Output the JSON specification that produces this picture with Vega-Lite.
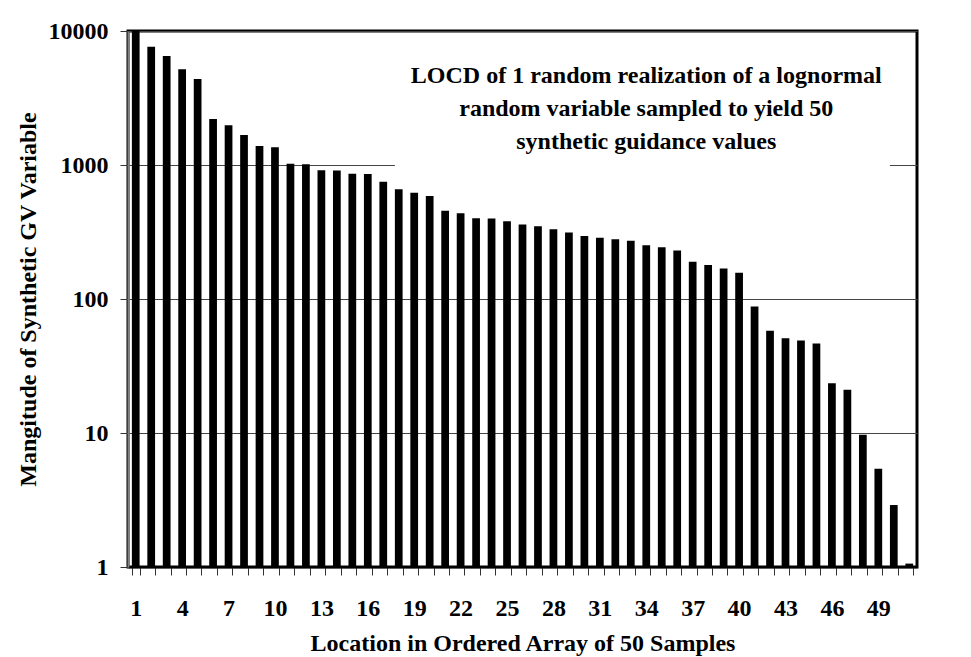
{
  "$schema": "https://vega.github.io/schema/vega-lite/v6.json",
  "autosize": {"type": "none"},
  "padding": {"left": 128, "top": 31, "right": 54, "bottom": 90},
  "width": 789,
  "height": 536,
  "background": "white",
  "config": {
    "font": "Liberation Serif",
    "view": {"stroke": "black", "strokeWidth": 3}
  },
  "datasets": {
    "bars": [
      {"loc": 1, "value": 10000}, {"loc": 2, "value": 7640}, {"loc": 3, "value": 6510},
      {"loc": 4, "value": 5180}, {"loc": 5, "value": 4385}, {"loc": 6, "value": 2205},
      {"loc": 7, "value": 1978}, {"loc": 8, "value": 1675}, {"loc": 9, "value": 1386},
      {"loc": 10, "value": 1355}, {"loc": 11, "value": 1020}, {"loc": 12, "value": 1015},
      {"loc": 13, "value": 915}, {"loc": 14, "value": 910}, {"loc": 15, "value": 862},
      {"loc": 16, "value": 858}, {"loc": 17, "value": 750}, {"loc": 18, "value": 660},
      {"loc": 19, "value": 621}, {"loc": 20, "value": 587}, {"loc": 21, "value": 456},
      {"loc": 22, "value": 436}, {"loc": 23, "value": 401}, {"loc": 24, "value": 398},
      {"loc": 25, "value": 380}, {"loc": 26, "value": 359}, {"loc": 27, "value": 349},
      {"loc": 28, "value": 331}, {"loc": 29, "value": 313}, {"loc": 30, "value": 295},
      {"loc": 31, "value": 287}, {"loc": 32, "value": 279}, {"loc": 33, "value": 272},
      {"loc": 34, "value": 252}, {"loc": 35, "value": 243}, {"loc": 36, "value": 230},
      {"loc": 37, "value": 190}, {"loc": 38, "value": 179}, {"loc": 39, "value": 169},
      {"loc": 40, "value": 157}, {"loc": 41, "value": 88}, {"loc": 42, "value": 58},
      {"loc": 43, "value": 51}, {"loc": 44, "value": 49}, {"loc": 45, "value": 46.5},
      {"loc": 46, "value": 23.5}, {"loc": 47, "value": 21}, {"loc": 48, "value": 9.7},
      {"loc": 49, "value": 5.4}, {"loc": 50, "value": 2.9}, {"loc": 51, "value": 1.06}
    ],
    "note": [
      {"label": "LOCD of 1 random realization of a lognormal\nrandom variable sampled to yield 50\nsynthetic guidance values"}
    ]
  },
  "layer": [
    {
      "data": {"name": "bars"},
      "mark": {"type": "bar", "color": "black"},
      "encoding": {
        "x": {
          "field": "loc",
          "type": "ordinal",
          "scale": {"paddingInner": 0.5, "paddingOuter": 0.25},
          "axis": {
            "title": "Location in Ordered Array of 50 Samples",
            "titleFont": "Liberation Serif",
            "titleFontSize": 24,
            "titleFontWeight": "bold",
            "titleColor": "black",
            "titleBaseline": "alphabetic",
            "titleY": 83,
            "labelFont": "Liberation Serif",
            "labelFontSize": 24,
            "labelFontWeight": "bold",
            "labelColor": "black",
            "labelAngle": 0,
            "labelBaseline": "alphabetic",
            "labelPadding": 40,
            "labelOverlap": false,
            "labelExpr": "datum.value % 3 == 1 ? datum.label : ''",
            "tickBand": "extent",
            "tickSize": 8,
            "tickColor": "#333333",
            "tickWidth": 1,
            "domainColor": "black",
            "domainWidth": 1.5
          }
        },
        "y": {
          "field": "value",
          "type": "quantitative",
          "scale": {"type": "log", "domain": [1, 10000], "nice": false},
          "axis": {
            "title": "Mangitude of Synthetic GV Variable",
            "titleFont": "Liberation Serif",
            "titleFontSize": 24,
            "titleFontWeight": "bold",
            "titleColor": "black",
            "titleBaseline": "middle",
            "titleX": -100,
            "titleY": 268,
            "titleAngle": -90,
            "values": [1, 10, 100, 1000, 10000],
            "format": "d",
            "labelFont": "Liberation Serif",
            "labelFontSize": 24,
            "labelFontWeight": "bold",
            "labelColor": "black",
            "labelPadding": 12,
            "tickSize": 8,
            "tickColor": "#333333",
            "domainColor": "#808080",
            "domainWidth": 2,
            "grid": true,
            "gridColor": "#444444",
            "gridWidth": 1
          }
        },
        "y2": {"datum": 1}
      }
    },
    {
      "data": {"name": "note"},
      "mark": {"type": "rect", "fill": "white"},
      "encoding": {
        "x": {"datum": 18, "type": "ordinal", "bandPosition": 0},
        "x2": {"datum": 50, "bandPosition": 0},
        "y": {"datum": 700, "type": "quantitative"},
        "y2": {"datum": 8000}
      }
    },
    {
      "data": {"name": "note"},
      "mark": {
        "type": "text",
        "font": "Liberation Serif",
        "fontSize": 24,
        "fontWeight": "bold",
        "color": "black",
        "align": "center",
        "baseline": "alphabetic",
        "lineBreak": "\n",
        "lineHeight": 33
      },
      "encoding": {
        "x": {"datum": 34, "type": "ordinal"},
        "y": {"datum": 4100, "type": "quantitative"},
        "text": {"field": "label"}
      }
    }
  ]
}
